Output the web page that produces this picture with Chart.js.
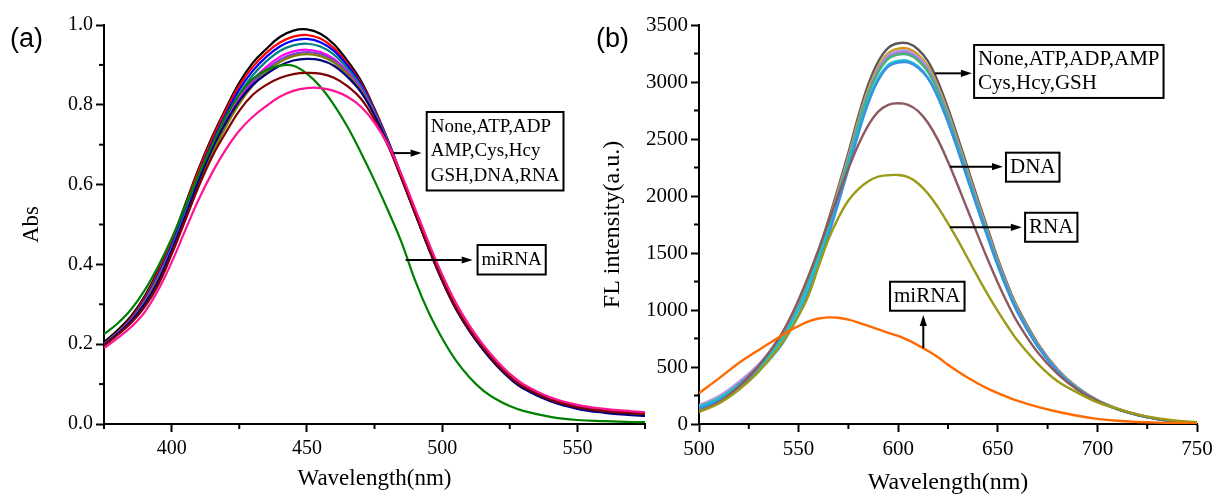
<!DOCTYPE html>
<html>
<head>
<meta charset="utf-8">
<script src="https://cdn.jsdelivr.net/npm/chart.js@4.4.1/dist/chart.umd.min.js"></script>
<style>
html,body{margin:0;padding:0;background:#fff;}
body{width:1214px;height:497px;position:relative;overflow:hidden;}
#ca{position:absolute;left:0;top:0;}
#cb{position:absolute;left:590px;top:0;}
.lab{position:absolute;font-family:"Liberation Sans",Arial,sans-serif;font-size:27px;line-height:1;color:#000;}
</style>
</head>
<body>
<canvas id="ca" width="660" height="497"></canvas>
<canvas id="cb" width="624" height="497"></canvas>
<div class="lab" style="left:10px;top:25px">(a)</div>
<div class="lab" style="left:596px;top:25px">(b)</div>
<script>
// ---------- Panel (a): absorption ----------
const absWavelength = [375,380,385,390,395,400,405,410,415,420,425,430,435,440,445,450,455,460,465,470,475,480,485,490,495,500,505,510,515,520,525,530,540,550,560,570,575];
const absNone  = [0.205,0.235,0.27,0.32,0.385,0.46,0.55,0.64,0.72,0.79,0.855,0.905,0.94,0.97,0.986,0.989,0.978,0.952,0.91,0.86,0.79,0.71,0.62,0.53,0.44,0.36,0.29,0.235,0.19,0.15,0.118,0.093,0.062,0.044,0.034,0.028,0.026];
const absATP   = [0.2,0.23,0.265,0.315,0.38,0.455,0.545,0.635,0.715,0.785,0.848,0.895,0.93,0.956,0.971,0.975,0.966,0.942,0.903,0.855,0.788,0.71,0.622,0.533,0.445,0.365,0.295,0.24,0.194,0.154,0.121,0.096,0.064,0.045,0.035,0.029,0.027];
const absADP   = [0.198,0.228,0.262,0.31,0.373,0.447,0.535,0.625,0.705,0.775,0.838,0.885,0.92,0.946,0.961,0.965,0.957,0.935,0.898,0.851,0.785,0.708,0.62,0.531,0.443,0.362,0.292,0.237,0.191,0.151,0.118,0.093,0.061,0.042,0.032,0.026,0.024];
const absAMP   = [0.197,0.226,0.26,0.307,0.369,0.442,0.528,0.617,0.697,0.766,0.827,0.874,0.909,0.935,0.949,0.953,0.946,0.926,0.891,0.846,0.782,0.706,0.619,0.53,0.442,0.361,0.291,0.236,0.19,0.15,0.117,0.092,0.06,0.041,0.031,0.025,0.023];
const absCys   = [0.196,0.225,0.258,0.304,0.365,0.437,0.522,0.609,0.688,0.756,0.815,0.861,0.895,0.92,0.934,0.938,0.932,0.915,0.883,0.84,0.778,0.703,0.617,0.529,0.442,0.361,0.291,0.236,0.19,0.15,0.117,0.092,0.06,0.041,0.031,0.026,0.024];
const absHcy   = [0.2,0.229,0.262,0.307,0.366,0.437,0.52,0.605,0.683,0.75,0.808,0.854,0.888,0.913,0.927,0.932,0.927,0.911,0.88,0.838,0.777,0.703,0.617,0.529,0.442,0.36,0.29,0.235,0.189,0.149,0.116,0.091,0.059,0.04,0.03,0.025,0.023];
const absGSH   = [0.197,0.226,0.259,0.303,0.362,0.432,0.514,0.599,0.677,0.744,0.802,0.848,0.882,0.907,0.922,0.927,0.922,0.906,0.876,0.835,0.775,0.702,0.616,0.528,0.441,0.36,0.29,0.235,0.189,0.149,0.116,0.091,0.059,0.04,0.03,0.024,0.022];
const absDNA   = [0.198,0.226,0.258,0.301,0.358,0.435,0.52,0.61,0.69,0.755,0.81,0.85,0.877,0.898,0.911,0.915,0.912,0.898,0.87,0.832,0.774,0.702,0.616,0.528,0.441,0.36,0.29,0.234,0.187,0.147,0.114,0.089,0.057,0.038,0.028,0.022,0.02];
const absRNA   = [0.196,0.223,0.253,0.293,0.348,0.425,0.51,0.595,0.67,0.73,0.785,0.825,0.85,0.867,0.877,0.88,0.878,0.868,0.847,0.815,0.763,0.697,0.615,0.528,0.442,0.362,0.292,0.237,0.191,0.151,0.118,0.093,0.061,0.042,0.032,0.027,0.025];
const absProbe = [0.19,0.215,0.243,0.28,0.335,0.405,0.485,0.5625,0.63,0.6875,0.735,0.77,0.797,0.82,0.835,0.842,0.842,0.835,0.82,0.795,0.755,0.7,0.625,0.54,0.455,0.375,0.305,0.248,0.2,0.16,0.126,0.1,0.067,0.048,0.038,0.032,0.03];
const absMiRNA = [0.225,0.252,0.287,0.335,0.395,0.465,0.545,0.625,0.7,0.77,0.825,0.865,0.887,0.898,0.898,0.878,0.845,0.8,0.745,0.68,0.61,0.535,0.455,0.36,0.28,0.215,0.16,0.118,0.085,0.062,0.045,0.033,0.018,0.01,0.007,0.005,0.005];
const absXTicks = [400,450,500,550];
const absXMinor = [375,425,475,525,575];
const absYTicks = [0,0.2,0.4,0.6,0.8,1.0];
const absYMinor = [0.1,0.3,0.5,0.7,0.9];

// ---------- Panel (b): fluorescence ----------
const flWavelength = [500,510,520,530,540,545,550,555,560,565,570,575,580,585,590,595,600,605,610,615,620,625,630,635,640,645,650,655,660,670,680,690,700,710,720,730,740,750];
const flNone  = [115,195,330,500,730,880,1060,1280,1520,1790,2080,2380,2700,2980,3180,3300,3340,3338,3285,3180,3000,2770,2510,2240,1970,1710,1450,1220,1020,710,480,320,210,135,82,45,20,8];
const flATP   = [120,200,335,500,725,872,1048,1265,1500,1768,2055,2350,2665,2940,3135,3253,3293,3292,3240,3137,2960,2735,2478,2212,1945,1688,1432,1205,1008,702,475,317,208,134,81,45,20,8];
const flADP   = [165,245,370,525,735,870,1040,1255,1490,1755,2040,2335,2645,2920,3115,3235,3273,3272,3220,3118,2942,2718,2462,2197,1932,1676,1422,1196,1000,697,471,314,206,132,80,44,20,8];
const flAMP   = [150,228,355,510,722,862,1035,1250,1485,1750,2030,2322,2632,2905,3100,3218,3255,3255,3203,3102,2927,2705,2450,2186,1922,1668,1415,1190,995,693,468,312,205,132,80,44,20,8];
const flCys   = [140,215,340,495,710,852,1025,1240,1475,1738,2018,2310,2620,2892,3085,3202,3240,3240,3188,3087,2912,2690,2437,2175,1912,1660,1408,1185,990,690,466,311,204,131,80,44,20,8];
const flHcy   = [150,225,345,495,700,840,1010,1220,1450,1708,1985,2272,2578,2843,3035,3150,3185,3186,3136,3037,2866,2648,2399,2140,1883,1635,1387,1168,977,681,460,307,202,130,79,44,20,8];
const flGSH   = [135,205,320,465,660,795,960,1165,1395,1655,1940,2235,2545,2815,3015,3135,3170,3172,3125,3030,2862,2647,2400,2142,1885,1637,1390,1170,978,682,461,308,202,130,79,44,20,8];
const flDNA   = [110,190,330,510,750,905,1090,1300,1530,1770,2010,2240,2450,2620,2740,2800,2813,2800,2745,2640,2490,2300,2090,1870,1655,1440,1240,1055,890,630,440,300,200,130,80,45,22,10];
const flRNA   = [105,180,300,460,670,800,950,1130,1380,1620,1810,1960,2060,2130,2170,2182,2184,2165,2110,2020,1900,1760,1610,1450,1290,1135,990,855,730,530,375,275,190,135,85,50,28,15];
const flMiRNA = [270,400,535,650,760,815,860,900,925,935,932,915,890,860,830,800,772,735,690,640,585,520,460,405,355,310,270,235,203,150,108,72,45,28,18,12,9,8];
const flXTicks = [500,550,600,650,700,750];
const flXMinor = [525,575,625,675,725];
const flYTicks = [0,500,1000,1500,2000,2500,3000,3500];
const flYMinor = [250,750,1250,1750,2250,2750,3250];

const SERIF = '"Liberation Serif","Times New Roman",serif';
Chart.defaults.font.family = SERIF;
Chart.defaults.color = '#000';

function series(xs, ys, label, color, width) {
  return {
    label, borderColor: color, backgroundColor: color, borderWidth: width,
    data: xs.map((x, i) => ({x, y: ys[i]})),
    pointRadius: 0, fill: false, tension: 0.4
  };
}

function drawArrow(ctx, x1, y1, x2, y2) {
  const a = Math.atan2(y2 - y1, x2 - x1), L = 11, W = 3.6;
  const c = Math.cos(a), s = Math.sin(a);
  ctx.beginPath(); ctx.moveTo(x1, y1); ctx.lineTo(x2 - L * c, y2 - L * s); ctx.stroke();
  ctx.beginPath(); ctx.moveTo(x2, y2);
  ctx.lineTo(x2 - L * c + W * s, y2 - L * s - W * c);
  ctx.lineTo(x2 - L * c - W * s, y2 - L * s + W * c);
  ctx.closePath(); ctx.fill();
}

function decorPlugin(spec) {
  return {
    id: 'decor_' + spec.id,
    afterDraw(chart) {
      const ctx = chart.ctx, xs = chart.scales.x, ys = chart.scales.y, a = chart.chartArea;
      ctx.save();
      ctx.strokeStyle = '#000'; ctx.fillStyle = '#000'; ctx.lineWidth = 2;
      spec.xMinor.forEach(v => {
        const p = xs.getPixelForValue(v);
        ctx.beginPath(); ctx.moveTo(p, a.bottom); ctx.lineTo(p, a.bottom + 5); ctx.stroke();
      });
      spec.yMinor.forEach(v => {
        const p = ys.getPixelForValue(v);
        ctx.beginPath(); ctx.moveTo(a.left, p); ctx.lineTo(a.left - 5, p); ctx.stroke();
      });
      spec.arrows.forEach(r => {
        drawArrow(ctx, xs.getPixelForValue(r[0]), ys.getPixelForValue(r[1]),
                       xs.getPixelForValue(r[2]), ys.getPixelForValue(r[3]));
      });
      ctx.font = spec.fontSize + 'px ' + SERIF;
      ctx.textBaseline = 'middle'; ctx.textAlign = 'left';
      spec.boxes.forEach(b => {
        const left = xs.getPixelForValue(b.x), top = ys.getPixelForValue(b.y);
        const w = Math.max(...b.lines.map(t => ctx.measureText(t).width)) + 8;
        const h = b.lines.length * spec.lineH + 5;
        ctx.fillStyle = '#fff'; ctx.fillRect(left, top, w, h);
        ctx.strokeRect(left, top, w, h);
        ctx.fillStyle = '#000';
        b.lines.forEach((t, i) => ctx.fillText(t, left + 4, top + 2.5 + spec.lineH * (i + 0.5)));
      });
      ctx.restore();
    }
  };
}

function axes(o) {
  const tickFont = {family: SERIF, size: o.tickSize};
  const titleFont = {family: SERIF, size: o.titleSize};
  const grid = {display: true, drawOnChartArea: false, drawTicks: true, tickLength: 8, tickWidth: 2, tickColor: '#000'};
  const border = {display: true, color: '#000', width: 2};
  return {
    x: {
      type: 'linear', min: o.xMin, max: o.xMax,
      afterBuildTicks: s => { s.ticks = o.xTicks.map(v => ({value: v})); },
      afterFit: s => { s.height = 73; s.paddingLeft = 0; s.paddingRight = 0; },
      ticks: {font: tickFont, color: '#000', padding: 5, maxRotation: 0, autoSkip: false},
      grid, border,
      title: {display: true, text: 'Wavelength(nm)', font: titleFont, color: '#000', padding: {top: 0, bottom: o.xTitlePad}}
    },
    y: {
      type: 'linear', min: o.yMin, max: o.yMax,
      afterBuildTicks: s => { s.ticks = o.yTicks.map(v => ({value: v})); },
      afterFit: s => { s.width = o.yWidth; s.paddingTop = 0; s.paddingBottom = 0; },
      ticks: {font: tickFont, color: '#000', padding: 3, callback: o.yFmt},
      grid, border,
      title: {display: true, text: o.yTitle, font: titleFont, color: '#000', padding: {top: o.yTitlePad, bottom: 0}}
    }
  };
}

// Panel (a)
new Chart(document.getElementById('ca'), {
  type: 'line',
  data: {datasets: [
    series(absWavelength, absProbe, 'Probe', '#FF1493', 2.2),
    series(absWavelength, absRNA, 'RNA', '#800000', 2.2),
    series(absWavelength, absMiRNA, 'miRNA', '#008000', 2.2),
    series(absWavelength, absDNA, 'DNA', '#000080', 2.2),
    series(absWavelength, absGSH, 'GSH', '#808000', 2.2),
    series(absWavelength, absHcy, 'Hcy', '#8040D0', 2.2),
    series(absWavelength, absCys, 'Cys', '#FF00FF', 2.2),
    series(absWavelength, absAMP, 'AMP', '#008080', 2.2),
    series(absWavelength, absADP, 'ADP', '#0000FF', 2.2),
    series(absWavelength, absATP, 'ATP', '#FF0000', 2.2),
    series(absWavelength, absNone, 'None', '#000000', 2.2)
  ]},
  options: {
    responsive: false, animation: false,
    layout: {padding: {left: 0, top: 25, right: 15, bottom: 0}},
    plugins: {legend: {display: false}, tooltip: {enabled: false}},
    scales: axes({xMin: 375, xMax: 575, yMin: 0, yMax: 1.0, xTicks: absXTicks, yTicks: absYTicks,
      tickSize: 20, titleSize: 23, yWidth: 104, yTitle: 'Abs', yTitlePad: 18, xTitlePad: 4,
      yFmt: v => Number(v).toFixed(1)})
  },
  plugins: [decorPlugin({
    id: 'a', xMinor: absXMinor, yMinor: absYMinor, fontSize: 19, lineH: 24.5,
    arrows: [[482.0, 0.679, 492.4, 0.679], [486.5, 0.411, 511.3, 0.411]],
    boxes: [
      {x: 494.3, y: 0.782, lines: ['None,ATP,ADP', 'AMP,Cys,Hcy', 'GSH,DNA,RNA']},
      {x: 513.1, y: 0.4486, lines: ['miRNA']}
    ]
  })]
});

// Panel (b)
new Chart(document.getElementById('cb'), {
  type: 'line',
  data: {datasets: [
    series(flWavelength, flMiRNA, 'miRNA', '#FF6A00', 2.4),
    series(flWavelength, flRNA, 'RNA', '#9B9B1A', 2.4),
    series(flWavelength, flDNA, 'DNA', '#8C5A5E', 2.4),
    series(flWavelength, flGSH, 'GSH', '#3D8FE6', 2.4),
    series(flWavelength, flHcy, 'Hcy', '#18C6C8', 2.4),
    series(flWavelength, flCys, 'Cys', '#46B27A', 2.4),
    series(flWavelength, flAMP, 'AMP', '#9A7FD6', 2.4),
    series(flWavelength, flADP, 'ADP', '#B99AE0', 2.4),
    series(flWavelength, flATP, 'ATP', '#D19A12', 2.4),
    series(flWavelength, flNone, 'None', '#595959', 2.4)
  ]},
  options: {
    responsive: false, animation: false,
    layout: {padding: {left: 0, top: 25, right: 17, bottom: 0}},
    plugins: {legend: {display: false}, tooltip: {enabled: false}},
    scales: axes({xMin: 500, xMax: 750, yMin: 0, yMax: 3500, xTicks: flXTicks, yTicks: flYTicks,
      tickSize: 21, titleSize: 24, yWidth: 109, yTitle: 'FL intensity(a.u.)', yTitlePad: 8, xTitlePad: 0,
      yFmt: v => String(v)})
  },
  plugins: [decorPlugin({
    id: 'b', xMinor: flXMinor, yMinor: flYMinor, fontSize: 21, lineH: 24,
    arrows: [[618.5, 3076, 637.0, 3076], [626, 2257, 652.6, 2257], [626, 1725, 662.1, 1725], [612.6, 667, 612.6, 956]],
    boxes: [
      {x: 638.1, y: 3325, lines: ['None,ATP,ADP,AMP', 'Cys,Hcy,GSH']},
      {x: 654.1, y: 2380, lines: ['DNA']},
      {x: 663.7, y: 1853, lines: ['RNA']},
      {x: 595.9, y: 1248, lines: ['miRNA']}
    ]
  })]
});
</script>
</body>
</html>
